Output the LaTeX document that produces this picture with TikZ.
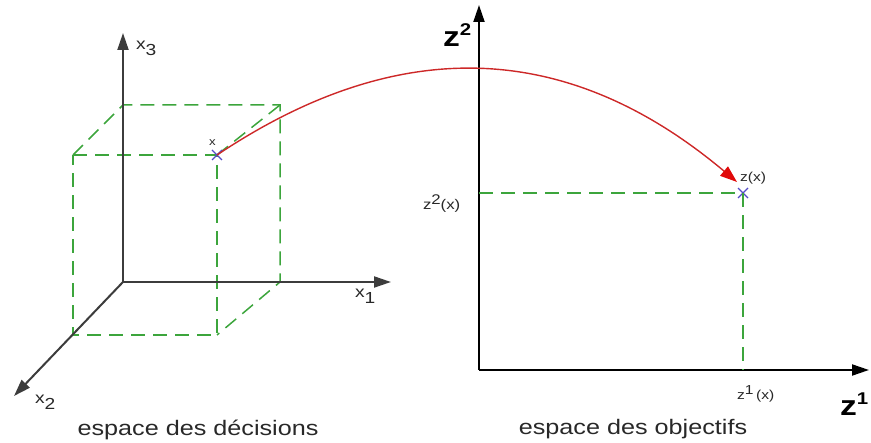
\documentclass[tikz,border=0pt]{standalone}
\usepackage{fontspec}
\setmainfont{Liberation Sans}
\usepackage{graphicx}
\usetikzlibrary{arrows.meta,shapes.misc}
\definecolor{axegray}{RGB}{60,60,60}
\definecolor{projgreen}{RGB}{60,165,60}
\definecolor{mapred}{RGB}{205,40,40}
\definecolor{tipred}{RGB}{225,10,10}
\definecolor{crossblue}{RGB}{85,75,200}
\definecolor{labelgray}{RGB}{40,40,40}
% stretched text, the picture is wider than the font
\newcommand{\wtxt}[2]{\scalebox{1.2}[1]{\fontsize{#1bp}{#1bp}\selectfont #2}}

\tikzset{
  axe/.style={line width=2bp,-{Triangle[length=17bp,width=11bp]}},
  proj/.style={projgreen,line width=1.5bp,dash pattern=on 14bp off 8bp},
  pointx/.style={cross out,draw=crossblue,line width=1.3bp,minimum size=10bp,inner sep=0pt},
  lbl/.style={anchor=base west,inner sep=0pt,outer sep=0pt,text=labelgray},
  mapto/.style={mapred,line width=1.4bp,-{Triangle[length=17bp,width=12bp,color=tipred]}},
}

\begin{document}
\begin{tikzpicture}[x=1bp,y=-1bp,inner sep=0pt,outer sep=0pt]
  \useasboundingbox (0,0) rectangle (871,443);
  % espace des decisions
  \coordinate (o3) at (123,282);
  \coordinate (x1end) at (391,282);
  \coordinate (x2end) at (14,396);
  \coordinate (x3end) at (123,33);
  \coordinate (f1) at (73,155);
  \coordinate (f2) at (217,155);
  \coordinate (f3) at (217,335);
  \coordinate (f4) at (73,335);
  \coordinate (b1) at (123,105);
  \coordinate (b2) at (280,105);
  \coordinate (b3) at (280,282);
  \draw[proj] (f1) -- (f2) -- (f3) -- (f4) -- cycle;
  \draw[proj] (f1) -- (b1) -- (b2) -- (b3) -- (f3);
  \draw[proj] (f2) -- (b2);
  \draw[axe,axegray] (o3) -- (x1end);
  \draw[axe,axegray] (o3) -- (x2end);
  \draw[axe,axegray] (o3) -- (x3end);
  \node[lbl] (lx1) at (355,298) {\wtxt{16}{x\raisebox{-6bp}{1}}};
  \node[lbl] (lx2) at (35,403) {\wtxt{16}{x\raisebox{-6bp}{2}}};
  \node[lbl] (lx3) at (136,50) {\wtxt{16}{x\raisebox{-6bp}{3}}};
  \node[pointx] (px) at (f2) {};
  \node[lbl] (lpx) at (209,146) {\wtxt{11}{x}};
  \node[anchor=base,text=labelgray] (capdec) at (198,435) {\wtxt{21}{espace des décisions}};
  % espace des objectifs
  \coordinate (oz) at (479,370);
  \coordinate (z1end) at (869,370);
  \coordinate (z2end) at (479,5);
  \coordinate (z2proj) at (479,193);
  \coordinate (z1proj) at (743,370);
  \draw[axe,black] (oz) -- (z1end);
  \draw[axe,black] (oz) -- (z2end);
  \node[pointx] (pz) at (743,193) {};
  \draw[proj] (z2proj) -- (pz.center) -- (z1proj);
  \node[lbl,text=black] (lz1) at (840,415) {\wtxt{28}{\bfseries z\raisebox{11bp}{\fontsize{17bp}{17bp}\selectfont 1}}};
  \node[lbl,text=black] (lz2) at (443,47) {\wtxt{28}{\bfseries z\raisebox{11bp}{\fontsize{17bp}{17bp}\selectfont 2}}};
  \node[lbl] (lz2x) at (423,210) {\wtxt{14}{z\raisebox{5bp}{2}(x)}};
  \node[lbl] (lz1x) at (737,399) {\wtxt{13}{z\raisebox{5bp}{1}\,(x)}};
  \node[lbl] (lpz) at (740,182) {\wtxt{13}{z(x)}};
  \node[anchor=base,text=labelgray] (capobj) at (633,434) {\wtxt{21}{espace des objectifs}};
  % image de x
  \coordinate (ztip) at (737,182);
  \draw[mapto] (px.center) .. controls (392,38) and (562,35) .. (ztip);
\end{tikzpicture}
\end{document}
